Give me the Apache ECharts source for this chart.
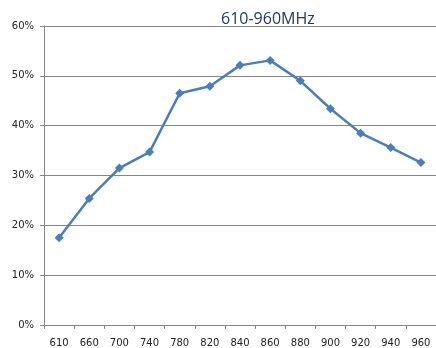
<!DOCTYPE html>
<html><head><meta charset="utf-8">
<script src="https://cdn.jsdelivr.net/npm/echarts@6/dist/echarts.min.js"></script>
<style>html,body{margin:0;padding:0;background:#fff}#c{width:436px;height:348px}</style>
</head><body><div id="c"></div>
<script>
var categories = ['610','660','700','740','780','820','840','860','880','900','920','940','960'];
var values = [17.5, 25.4, 31.5, 34.7, 46.5, 47.9, 52.1, 53.1, 49.0, 43.4, 38.5, 35.6, 32.6];
var titleText = '610-960MHz';
var chart = echarts.init(document.getElementById('c'), null, {renderer:'canvas'});
chart.setOption({
  animation:false,
  backgroundColor:'#fff',
  title:{text:titleText,left:216,top:6,textStyle:{fontFamily:'Open Sans',fontSize:16,fontWeight:'normal',color:'#1f3864'}},
  grid:{left:44,right:0,top:26,bottom:21},
  xAxis:{type:'category',data:categories,boundaryGap:true,
    axisLine:{lineStyle:{color:'#868686'}},
    axisTick:{show:true,length:4,lineStyle:{color:'#868686'}},
    axisLabel:{color:'#222',fontSize:10,fontFamily:'DejaVu Sans',margin:13}},
  yAxis:{type:'value',min:0,max:60,interval:10,
    axisLine:{show:true,lineStyle:{color:'#868686'}},
    axisTick:{show:true,length:4,lineStyle:{color:'#868686'}},
    splitLine:{lineStyle:{color:'#868686'}},
    axisLabel:{formatter:'{value}%',color:'#222',fontSize:10,fontFamily:'DejaVu Sans',margin:10}},
  series:[{type:'line',data:values,symbol:'diamond',symbolSize:9,
    lineStyle:{color:'#4a7ebb',width:2.5},itemStyle:{color:'#4a7ebb'}}]
});
</script></body></html>
